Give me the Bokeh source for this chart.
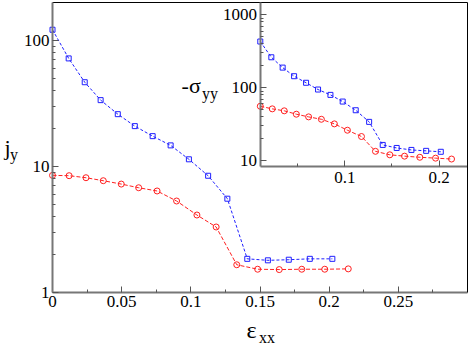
import math
from bokeh.plotting import figure
from bokeh.models import (Range1d, LogScale, LinearAxis, LogAxis, FixedTicker,
                          Label, PrintfTickFormatter)
from bokeh.embed import file_html
from bokeh.resources import INLINE

# ---------------- data ----------------
# main panel: j_y vs eps_xx
main_sq_x = [0.0, 0.0117, 0.0233, 0.0348, 0.0472, 0.0595, 0.0724, 0.0854,
             0.0986, 0.1125, 0.1264, 0.1408, 0.1557, 0.1708, 0.186, 0.2023]
main_sq_y = [121.6, 72.0, 46.6, 33.6, 26.0, 20.9, 17.4, 14.7,
             11.4, 8.44, 5.55, 1.85, 1.80, 1.82, 1.85, 1.85]
main_ci_x = [0.0, 0.012, 0.0242, 0.0367, 0.0497, 0.0623, 0.0756, 0.0897,
             0.1044, 0.1183, 0.1332, 0.1483, 0.1639, 0.1802, 0.1968, 0.2138]
main_ci_y = [8.5, 8.45, 8.14, 7.71, 7.25, 6.78, 6.39, 5.32,
             4.12, 3.31, 1.66, 1.53, 1.52, 1.53, 1.53, 1.54]

# inset: -sigma_yy vs eps_xx
ins_sq_x = [0.0105, 0.0222, 0.0342, 0.0463, 0.0590, 0.0717, 0.0848, 0.0978,
            0.1116, 0.1258, 0.1402, 0.155, 0.1706, 0.1862, 0.2017]
ins_sq_y = [431, 262, 189, 144, 117, 94.5, 79.8, 64.6,
            49.1, 34.0, 16.4, 14.9, 14.0, 13.6, 13.2]
ins_ci_x = [0.0105, 0.0232, 0.0359, 0.0487, 0.0617, 0.0752, 0.0890, 0.1028,
            0.1177, 0.1325, 0.1477, 0.1633, 0.1795, 0.1962, 0.2131]
ins_ci_y = [55.7, 51.3, 48.2, 43.3, 39.8, 36.9, 31.9, 26.1,
            21.4, 13.4, 12.0, 11.5, 11.1, 10.8, 10.5]

main_x_ticks = [0.0, 0.05, 0.1, 0.15, 0.2, 0.25]
main_x_minor = [0.025, 0.075, 0.125, 0.175, 0.225, 0.275]
main_y_ticks = [1, 10, 100]
main_y_minor = [2, 3, 4, 5, 6, 7, 8, 9, 20, 30, 40, 50, 60, 70, 80, 90]
ins_x_ticks = [0.1, 0.2]
ins_x_minor = [0.05, 0.15]
ins_y_ticks = [10, 100, 1000]
ins_y_minor = [20, 30, 40, 50, 60, 70, 80, 90, 200, 300, 400, 500, 600, 700, 800, 900]

# ---------------- axis limits ----------------
X0, X1 = 0.0, 0.3          # main x
Y0, Y1 = 1.0, 200.0        # main y (log)
IX0, IX1 = 0.0102, 0.23    # inset x
IY0, IY1 = 8.3, 1480.0     # inset y (log)
INSET_MX, INSET_MY = 0.15, 10.0   # inset's lower-left corner in main data

# ---------------- layout (canvas pixels) ----------------
W, H = 469, 346
L, R, T, B = 52, 467, 2, 292     # data box of the main panel

# main ranges span the whole canvas so every axis can be placed freely
sx = (X1 - X0) / (R - L)
xs, xe = X0 - L * sx, X1 + (W - R) * sx
dy = math.log10(Y1 / Y0) / (B - T)
ys, ye = 10 ** (math.log10(Y0) - (H - B) * dy), 10 ** (math.log10(Y1) + T * dy)

iL = L + (INSET_MX - X0) / sx
iB = B - math.log10(INSET_MY / Y0) / dy
isx = (IX1 - IX0) / (R - iL)
ixs, ixe = IX0 - iL * isx, IX1 + (W - R) * isx
idy = math.log10(IY1 / IY0) / (iB - T)
iys, iye = 10 ** (math.log10(IY0) - (H - iB) * idy), 10 ** (math.log10(IY1) + T * idy)

FONT = "Liberation Serif"
BLUE = "#1f1fff"
RED = "#ff2020"
AXIS_GRAY = "#777777"

p = figure(width=W, height=H, x_range=Range1d(xs, xe), y_range=Range1d(ys, ye),
           y_axis_type="log", x_axis_location=None, y_axis_location=None,
           output_backend="svg", toolbar_location=None,
           min_border_left=0, min_border_right=0, min_border_top=0, min_border_bottom=0)
p.grid.visible = False
p.outline_line_color = None
p.background_fill_color = "white"
p.border_fill_color = "white"

p.extra_x_ranges = {"ix": Range1d(ixs, ixe)}
p.extra_y_ranges = {"iy": Range1d(iys, iye)}
p.extra_y_scales = {"iy": LogScale()}

max_ = LinearAxis(fixed_location=Y0, bounds=(X0, X1),
                  ticker=FixedTicker(ticks=main_x_ticks, minor_ticks=main_x_minor))
may = LogAxis(fixed_location=X0, bounds=(Y0, Y1),
              ticker=FixedTicker(ticks=main_y_ticks, minor_ticks=main_y_minor))
iax = LinearAxis(x_range_name="ix", y_range_name="iy", fixed_location=IY0,
                 bounds=(IX0, IX1),
                 ticker=FixedTicker(ticks=ins_x_ticks, minor_ticks=ins_x_minor))
iay = LogAxis(x_range_name="ix", y_range_name="iy", fixed_location=IX0,
              bounds=(IY0, IY1),
              ticker=FixedTicker(ticks=ins_y_ticks, minor_ticks=ins_y_minor))
# frame edges on top and right (no ticks)
top_edge = LinearAxis(fixed_location=Y1, bounds=(X0, X1), ticker=FixedTicker(ticks=[]))
right_edge = LogAxis(fixed_location=X1, bounds=(Y0, Y1), ticker=FixedTicker(ticks=[]))

p.add_layout(max_, "below")
p.add_layout(may, "left")
p.add_layout(iax, "below")
p.add_layout(iay, "left")
p.add_layout(top_edge, "above")
p.add_layout(right_edge, "right")

for ax in [max_, may, iax, iay]:
    ax.formatter = PrintfTickFormatter(format="%g")
    ax.axis_line_color = AXIS_GRAY
    ax.axis_line_width = 2
    ax.major_tick_line_color = "#555555"
    ax.minor_tick_line_color = "#555555"
    ax.major_tick_in = 6
    ax.major_tick_out = 0
    ax.minor_tick_in = 3
    ax.minor_tick_out = 0
    ax.major_label_text_font = FONT
    ax.major_label_text_font_size = "17px"
    ax.major_label_text_color = "black"
    ax.major_label_standoff = 3
iax.major_label_standoff = 6

for ax in [top_edge, right_edge]:
    ax.axis_line_color = "black"
    ax.axis_line_width = 1
    ax.major_tick_line_color = None
    ax.minor_tick_line_color = None
    ax.major_label_text_font_size = "0px"

# main curves
p.line(main_sq_x, main_sq_y, line_color=BLUE, line_width=1, line_dash="3 2")
p.scatter(main_sq_x, main_sq_y, marker="square", size=5, line_color=BLUE,
          fill_color=None, line_width=1)
p.line(main_ci_x, main_ci_y, line_color=RED, line_width=1, line_dash="4 2")
p.scatter(main_ci_x, main_ci_y, marker="circle", size=6, line_color=RED,
          fill_color=None, line_width=1)

# inset curves
p.line(ins_sq_x, ins_sq_y, line_color=BLUE, line_width=1, line_dash="3 2",
       x_range_name="ix", y_range_name="iy")
p.scatter(ins_sq_x, ins_sq_y, marker="square", size=5, line_color=BLUE,
          fill_color=None, line_width=1, x_range_name="ix", y_range_name="iy")
p.line(ins_ci_x, ins_ci_y, line_color=RED, line_width=1, line_dash="4 2",
       x_range_name="ix", y_range_name="iy")
p.scatter(ins_ci_x, ins_ci_y, marker="circle", size=6, line_color=RED,
          fill_color=None, line_width=1, x_range_name="ix", y_range_name="iy")


def lbl(text, x, y, size, xo=0, yo=0):
    p.add_layout(Label(x=x, y=y, text=text, text_font=FONT,
                       text_font_size=f"{size}px", x_offset=xo, y_offset=yo,
                       text_align="left", text_baseline="alphabetic",
                       text_color="black"))


# axis titles with subscripts
lbl("j", -0.0347, 14.2, 22)
lbl("y", -0.0347, 14.2, 16, xo=5.5, yo=-7)
lbl("\u03b5", 0.1402, 0.5, 24)
lbl("xx", 0.1402, 0.5, 16, xo=12.5, yo=-7)
lbl("-\u03c3", 0.0933, 44.0, 22)
lbl("yy", 0.0933, 44.0, 16, xo=20.5, yo=-8)

open("out.html", "w").write(file_html(p, INLINE))
